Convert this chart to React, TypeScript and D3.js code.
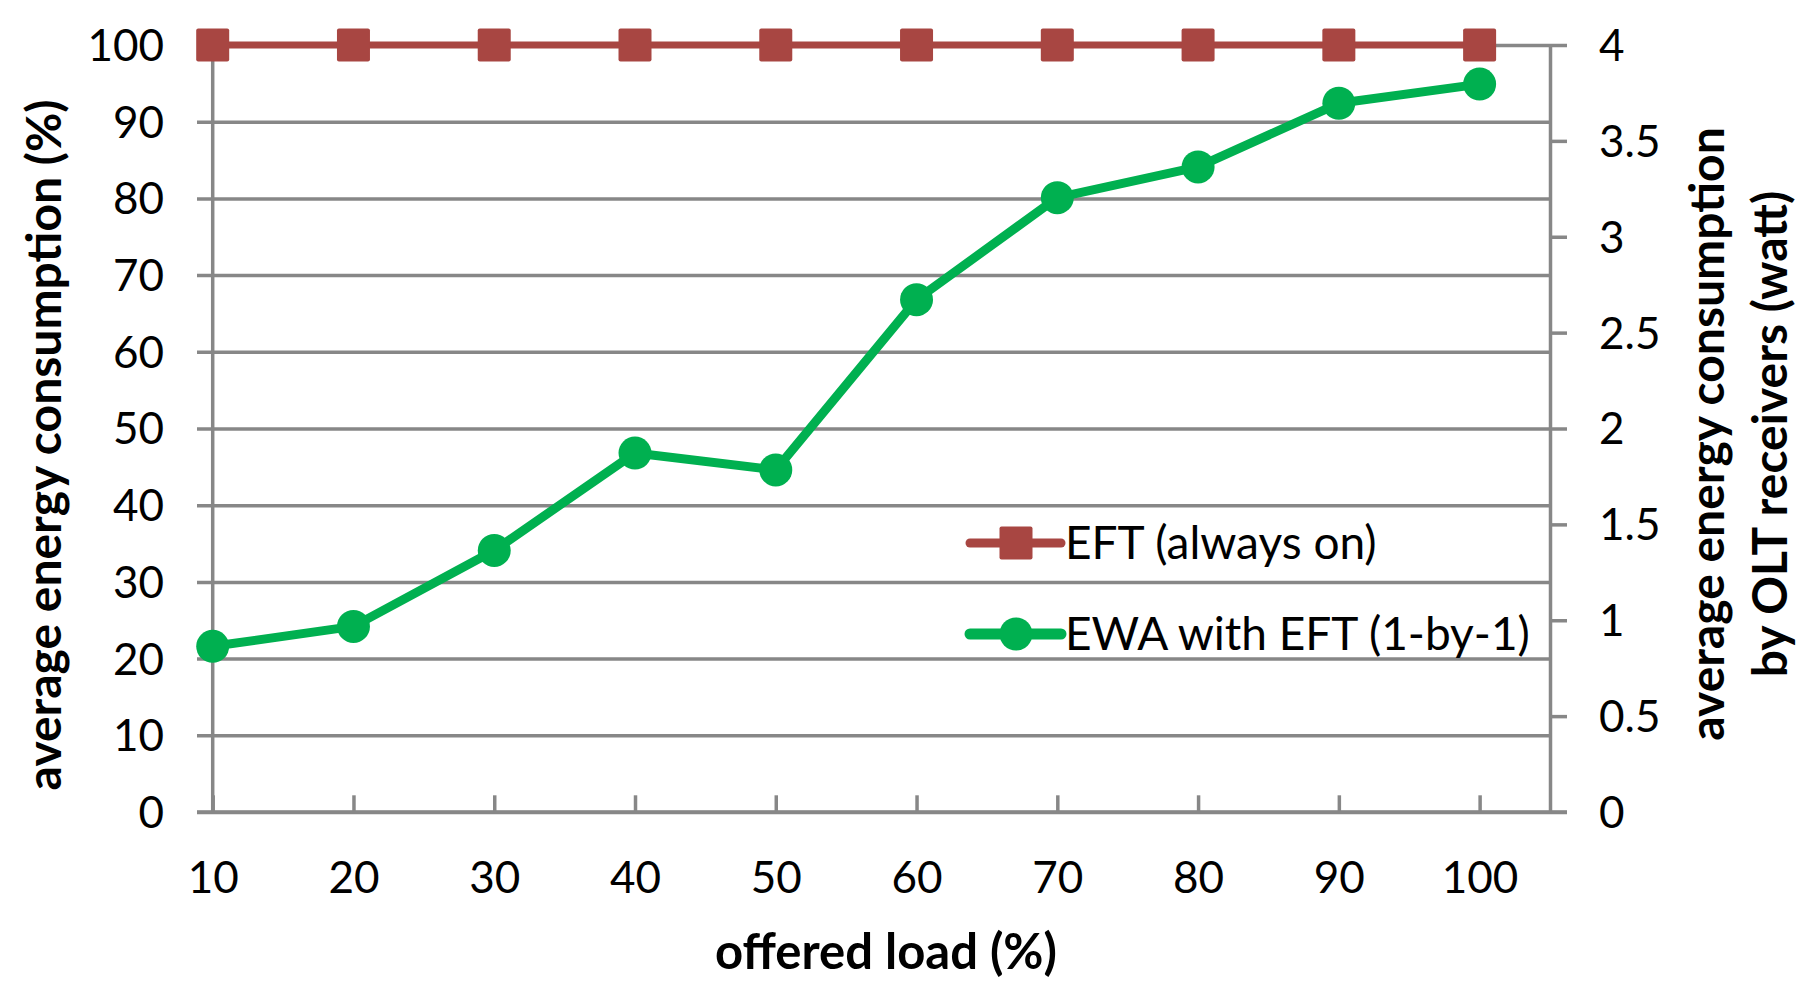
import React, { useRef, useEffect } from "react";
import * as d3 from "d3";

// offered load categories (%)
const offeredLoad = [10, 20, 30, 40, 50, 60, 70, 80, 90, 100];
// EFT (always on), left axis (%)
const eftAlwaysOn = [100, 100, 100, 100, 100, 100, 100, 100, 100, 100];
// EWA with EFT (1-by-1), left axis (%)
const ewaWithEft = [21.6, 24.2, 34.1, 46.8, 44.6, 66.8, 80.1, 84.1, 92.4, 94.9];

const leftTicks = [0, 10, 20, 30, 40, 50, 60, 70, 80, 90, 100];
const rightTicks = [0, 0.5, 1, 1.5, 2, 2.5, 3, 3.5, 4];
const seriesNames = ["EFT (always on)", "EWA with EFT (1-by-1)"];

const width = 1813;
const height = 997;
const plot = { left: 212.7, right: 1550, top: 45, bottom: 812 };
const gray = "#878787";
const red = "#A84642";
const green = "#00B050";
const font = "Lato, 'Open Sans', sans-serif";

const App: React.FC = () => {
  const svgRef = useRef<SVGSVGElement>(null);

  useEffect(() => {
    if (!svgRef.current) return;
    const svg = d3.select(svgRef.current);
    svg.selectAll("*").remove();

    const x = d3.scaleLinear().domain([10, 105]).range([plot.left, plot.right]);
    const yLeft = d3.scaleLinear().domain([0, 100]).range([plot.bottom, plot.top]);
    const yRight = d3.scaleLinear().domain([0, 4]).range([plot.bottom, plot.top]);

    svg.append("rect").attr("width", width).attr("height", height).attr("fill", "#fff");

    // left axis: gridlines + labels
    const gl = svg
      .append("g")
      .attr("transform", `translate(${plot.left - 15.7},0)`)
      .call(
        d3
          .axisLeft(yLeft)
          .tickValues(leftTicks)
          .tickSize(-(plot.right - plot.left + 15.7))
          .tickPadding(33)
      );
    gl.select(".domain").remove();
    gl.selectAll(".tick line").attr("stroke", gray).attr("stroke-width", 3.5);
    gl.selectAll(".tick text")
      .attr("font-family", font)
      .attr("font-size", 44)
      .attr("fill", "#000")
      .attr("dy", "0.35em");

    // right axis
    const gr = svg
      .append("g")
      .attr("transform", `translate(${plot.right},0)`)
      .call(
        d3
          .axisRight(yRight)
          .tickValues(rightTicks)
          .tickSize(17)
          .tickSizeOuter(0)
          .tickPadding(32)
          .tickFormat((d) => String(d))
      );
    gr.select(".domain").attr("stroke", gray).attr("stroke-width", 3.5);
    gr.selectAll(".tick line").attr("stroke", gray).attr("stroke-width", 3.5);
    gr.selectAll(".tick text")
      .attr("font-family", font)
      .attr("font-size", 44)
      .attr("fill", "#000")
      .attr("dy", "0.35em");

    // bottom axis
    const gb = svg
      .append("g")
      .attr("transform", `translate(0,${plot.bottom})`)
      .call(d3.axisBottom(x).tickValues(offeredLoad).tickSize(-16.7).tickPadding(50));
    gb.select(".domain").remove();
    gb.selectAll(".tick line").attr("stroke", gray).attr("stroke-width", 3.5);
    gb.selectAll(".tick text")
      .attr("font-family", font)
      .attr("font-size", 44)
      .attr("fill", "#000");

    svg
      .append("line")
      .attr("x1", plot.left - 15.7)
      .attr("x2", plot.right + 17)
      .attr("y1", plot.bottom)
      .attr("y2", plot.bottom)
      .attr("stroke", gray)
      .attr("stroke-width", 3.5);
    svg
      .append("line")
      .attr("x1", plot.left)
      .attr("x2", plot.left)
      .attr("y1", plot.top)
      .attr("y2", plot.bottom)
      .attr("stroke", gray)
      .attr("stroke-width", 3.5);

    // series
    const line = d3
      .line<number>()
      .x((_, i) => x(offeredLoad[i]))
      .y((d) => yLeft(d));

    svg
      .append("path")
      .datum(eftAlwaysOn)
      .attr("fill", "none")
      .attr("stroke", red)
      .attr("stroke-width", 7)
      .attr("d", line);
    svg
      .append("path")
      .datum(ewaWithEft)
      .attr("fill", "none")
      .attr("stroke", green)
      .attr("stroke-width", 9)
      .attr("stroke-linejoin", "round")
      .attr("d", line);

    const sq = 33;
    svg
      .append("g")
      .selectAll("rect")
      .data(eftAlwaysOn)
      .join("rect")
      .attr("x", (_, i) => x(offeredLoad[i]) - sq / 2)
      .attr("y", (d) => yLeft(d) - sq / 2)
      .attr("width", sq)
      .attr("height", sq)
      .attr("rx", 2)
      .attr("fill", red);

    svg
      .append("g")
      .selectAll("circle")
      .data(ewaWithEft)
      .join("circle")
      .attr("cx", (_, i) => x(offeredLoad[i]))
      .attr("cy", (d) => yLeft(d))
      .attr("r", 16.5)
      .attr("fill", green);

    // legend
    const lg = svg.append("g");
    const legendRows = [
      { name: seriesNames[0], color: red, y: 543, width: 7 },
      { name: seriesNames[1], color: green, y: 634, width: 9 },
    ];
    legendRows.forEach((r, i) => {
      lg.append("line")
        .attr("x1", 970)
        .attr("x2", 1061)
        .attr("y1", r.y)
        .attr("y2", r.y)
        .attr("stroke", r.color)
        .attr("stroke-width", r.width + 2)
        .attr("stroke-linecap", "round");
      if (i === 0) {
        lg.append("rect")
          .attr("x", 1016 - sq / 2)
          .attr("y", r.y - sq / 2)
          .attr("width", sq)
          .attr("height", sq)
          .attr("rx", 2)
          .attr("fill", r.color);
      } else {
        lg.append("circle").attr("cx", 1016).attr("cy", r.y).attr("r", 16.5).attr("fill", r.color);
      }
      lg.append("text")
        .attr("x", 1065)
        .attr("y", r.y)
        .attr("dy", "0.35em")
        .attr("font-family", font)
        .attr("font-size", 46)
        .text(r.name);
    });

    // axis titles
    svg
      .append("text")
      .attr("transform", "translate(61,445) rotate(-90)")
      .attr("text-anchor", "middle")
      .attr("font-family", font)
      .attr("font-weight", "bold")
      .attr("font-size", 48)
      .text("average energy consumption (%)");

    svg
      .append("text")
      .attr("transform", "translate(1724,434) rotate(-90)")
      .attr("text-anchor", "middle")
      .attr("font-family", font)
      .attr("font-weight", "bold")
      .attr("font-size", 48)
      .text("average energy consumption");
    svg
      .append("text")
      .attr("transform", "translate(1787,434) rotate(-90)")
      .attr("text-anchor", "middle")
      .attr("font-family", font)
      .attr("font-weight", "bold")
      .attr("font-size", 48)
      .text("by OLT receivers (watt)");

    svg
      .append("text")
      .attr("x", 886)
      .attr("y", 969)
      .attr("text-anchor", "middle")
      .attr("font-family", font)
      .attr("font-weight", "bold")
      .attr("font-size", 49)
      .text("offered load (%)");
  }, []);

  return (
    <svg
      ref={svgRef}
      width={width}
      height={height}
      style={{ position: "absolute", left: 0, top: 0, display: "block" }}
    ></svg>
  );
};

export default App;
